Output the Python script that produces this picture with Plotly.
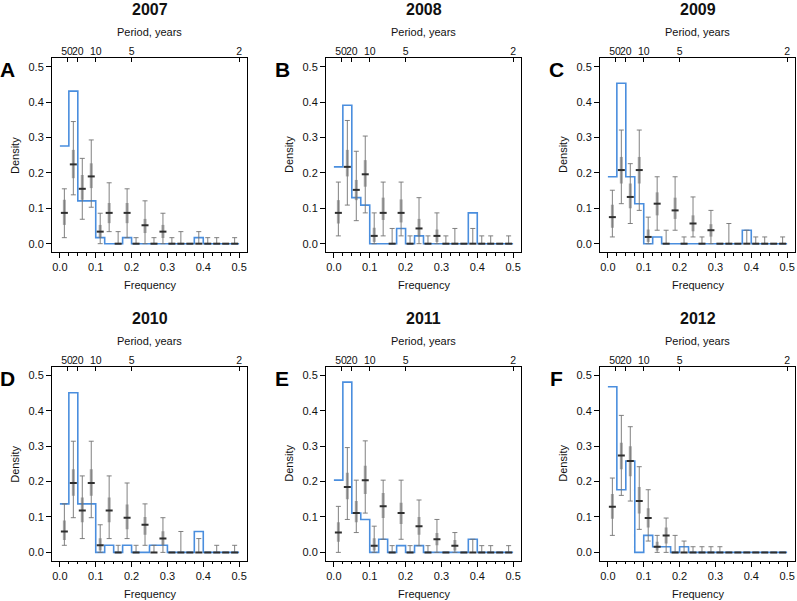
import numpy as np
import plotly.graph_objects as go

years = ["2007", "2008", "2009", "2010", "2011", "2012"]
letters = ["A", "B", "C", "D", "E", "F"]

bin_edges = [round(0.025 * i, 3) for i in range(21)]
bin_centers = [round(0.0125 + 0.025 * i, 4) for i in range(20)]

period_ticks = [0.02, 0.05, 0.1, 0.2, 0.5]
period_labels = ["50", "20", "10", "5", "2"]
freq_ticks = [0.0, 0.1, 0.2, 0.3, 0.4, 0.5]
freq_labels = ["0.0", "0.1", "0.2", "0.3", "0.4", "0.5"]
dens_ticks = [0.0, 0.1, 0.2, 0.3, 0.4, 0.5]
dens_labels = ["0.0", "0.1", "0.2", "0.3", "0.4", "0.5"]

# observed spectrum (blue step)
hist_A = [0.276, 0.431, 0.121, 0.121, 0.017, 0, 0, 0.017, 0, 0, 0, 0, 0, 0, 0, 0.017, 0, 0, 0, 0]
hist_B = [0.217, 0.391, 0.130, 0.109, 0, 0, 0, 0.043, 0, 0.022, 0, 0, 0, 0, 0, 0.087, 0, 0, 0, 0]
hist_C = [0.189, 0.453, 0.189, 0.113, 0, 0.019, 0, 0, 0, 0, 0, 0, 0, 0, 0, 0.038, 0, 0, 0, 0]
hist_D = [0.137, 0.451, 0.137, 0.137, 0, 0.020, 0, 0.020, 0, 0, 0.020, 0.020, 0, 0, 0, 0.059, 0, 0, 0, 0]
hist_E = [0.204, 0.481, 0.111, 0.093, 0, 0.037, 0, 0.019, 0, 0.019, 0, 0, 0, 0, 0, 0.037, 0, 0, 0, 0]
hist_F = [0.468, 0.177, 0.258, 0, 0.048, 0.016, 0.016, 0, 0.016, 0, 0, 0, 0, 0, 0, 0, 0, 0, 0, 0]

# simulated: point estimate, 95% and 50% intervals
mean_A = [0.087, 0.224, 0.155, 0.190, 0.034, 0.087, 0, 0.087, 0, 0.052, 0, 0.034, 0, 0, 0, 0, 0, 0, 0, 0]
lo_A = [0.017, 0.138, 0.069, 0.103, 0, 0.034, 0, 0.017, 0, 0, 0, 0, 0, 0, 0, 0, 0, 0, 0, 0]
hi_A = [0.155, 0.345, 0.241, 0.293, 0.086, 0.172, 0.034, 0.155, 0.017, 0.121, 0.017, 0.086, 0.017, 0.034, 0, 0.034, 0.017, 0.017, 0, 0.017]
lo50_A = [0.053, 0.185, 0.124, 0.157, 0.016, 0.058, 0, 0.058, 0, 0.030, 0, 0.016, 0, 0, 0, 0, 0, 0, 0, 0]
hi50_A = [0.124, 0.265, 0.194, 0.227, 0.053, 0.115, 0, 0.115, 0, 0.070, 0, 0.053, 0, 0, 0, 0, 0, 0, 0, 0]

mean_B = [0.087, 0.217, 0.152, 0.196, 0.022, 0.087, 0, 0.087, 0, 0.043, 0, 0.022, 0, 0, 0, 0, 0, 0, 0, 0]
lo_B = [0.022, 0.109, 0.065, 0.087, 0, 0.022, 0, 0.022, 0, 0, 0, 0, 0, 0, 0, 0, 0, 0, 0, 0]
hi_B = [0.174, 0.348, 0.261, 0.304, 0.087, 0.174, 0.043, 0.174, 0.022, 0.130, 0.022, 0.087, 0.022, 0.043, 0, 0.043, 0.022, 0.022, 0, 0.022]
lo50_B = [0.057, 0.190, 0.123, 0.161, 0.005, 0.067, 0, 0.060, 0, 0.020, 0, 0.005, 0, 0, 0, 0, 0, 0, 0, 0]
hi50_B = [0.123, 0.265, 0.180, 0.236, 0.045, 0.130, 0, 0.125, 0, 0.070, 0, 0.040, 0, 0, 0, 0, 0, 0, 0, 0]

mean_C = [0.075, 0.208, 0.132, 0.208, 0.019, 0.113, 0, 0.094, 0, 0.057, 0, 0.038, 0, 0, 0, 0, 0, 0, 0, 0]
lo_C = [0.019, 0.113, 0.057, 0.094, 0, 0.038, 0, 0.038, 0, 0.019, 0, 0, 0, 0, 0, 0, 0, 0, 0, 0]
hi_C = [0.151, 0.321, 0.226, 0.321, 0.075, 0.189, 0.038, 0.189, 0.019, 0.132, 0.019, 0.094, 0, 0.057, 0, 0.038, 0.019, 0.019, 0, 0.019]
lo50_C = [0.045, 0.170, 0.100, 0.170, 0.005, 0.080, 0, 0.070, 0, 0.035, 0, 0.020, 0, 0, 0, 0, 0, 0, 0, 0]
hi50_C = [0.110, 0.245, 0.170, 0.245, 0.040, 0.145, 0, 0.130, 0, 0.080, 0, 0.055, 0, 0, 0, 0, 0, 0, 0, 0]

mean_D = [0.059, 0.196, 0.118, 0.196, 0.020, 0.118, 0, 0.098, 0, 0.078, 0, 0.039, 0, 0, 0, 0, 0, 0, 0, 0]
lo_D = [0.020, 0.098, 0.039, 0.098, 0, 0.039, 0, 0.039, 0, 0.020, 0, 0, 0, 0, 0, 0, 0, 0, 0, 0]
hi_D = [0.137, 0.314, 0.216, 0.314, 0.078, 0.216, 0.020, 0.196, 0.020, 0.137, 0.020, 0.098, 0, 0.059, 0, 0.039, 0, 0.020, 0, 0.020]
lo50_D = [0.035, 0.160, 0.085, 0.160, 0.005, 0.085, 0, 0.065, 0, 0.050, 0, 0.020, 0, 0, 0, 0, 0, 0, 0, 0]
hi50_D = [0.090, 0.235, 0.155, 0.235, 0.040, 0.155, 0, 0.135, 0, 0.100, 0, 0.060, 0, 0, 0, 0, 0, 0, 0, 0]

mean_E = [0.056, 0.185, 0.111, 0.204, 0.019, 0.130, 0, 0.111, 0, 0.074, 0, 0.037, 0, 0.019, 0, 0, 0, 0, 0, 0]
lo_E = [0, 0.093, 0.056, 0.111, 0, 0.037, 0, 0.037, 0, 0.019, 0, 0, 0, 0, 0, 0, 0, 0, 0, 0]
hi_E = [0.130, 0.296, 0.204, 0.315, 0.074, 0.204, 0.019, 0.204, 0.019, 0.148, 0.019, 0.093, 0, 0.056, 0, 0.037, 0.019, 0.019, 0, 0.019]
lo50_E = [0.030, 0.150, 0.085, 0.165, 0.005, 0.097, 0, 0.080, 0, 0.050, 0, 0.020, 0, 0.005, 0, 0, 0, 0, 0, 0]
hi50_E = [0.085, 0.225, 0.145, 0.245, 0.040, 0.168, 0, 0.140, 0, 0.100, 0, 0.055, 0, 0.035, 0, 0, 0, 0, 0, 0]

mean_F = [0.129, 0.274, 0.258, 0.145, 0.097, 0.016, 0.048, 0, 0, 0, 0, 0, 0, 0, 0, 0, 0, 0, 0, 0]
lo_F = [0.048, 0.161, 0.145, 0.065, 0.032, 0, 0, 0, 0, 0, 0, 0, 0, 0, 0, 0, 0, 0, 0, 0]
hi_F = [0.210, 0.387, 0.355, 0.242, 0.177, 0.048, 0.097, 0.048, 0.032, 0.016, 0.016, 0.016, 0.016, 0, 0, 0, 0, 0, 0, 0]
lo50_F = [0.095, 0.235, 0.215, 0.110, 0.070, 0.005, 0.025, 0, 0, 0, 0, 0, 0, 0, 0, 0, 0, 0, 0, 0]
hi50_F = [0.165, 0.310, 0.300, 0.185, 0.125, 0.030, 0.070, 0, 0, 0, 0, 0, 0, 0, 0, 0, 0, 0, 0, 0]

hists = [hist_A, hist_B, hist_C, hist_D, hist_E, hist_F]
means = [mean_A, mean_B, mean_C, mean_D, mean_E, mean_F]
los = [lo_A, lo_B, lo_C, lo_D, lo_E, lo_F]
his = [hi_A, hi_B, hi_C, hi_D, hi_E, hi_F]
lo50s = [lo50_A, lo50_B, lo50_C, lo50_D, lo50_E, lo50_F]
hi50s = [hi50_A, hi50_B, hi50_C, hi50_D, hi50_E, hi50_F]

W, H = 797, 601
FONT = "Liberation Sans, Arial, Helvetica, sans-serif"
BLUE = "#4a8ede"
TXT = "#111111"

col_left = [52, 326, 600]
box_w = 195
row_top = [58, 366.7]
box_h = 194

fig = go.Figure()
layout = dict(
    width=W, height=H, margin=dict(l=0, r=0, t=0, b=0),
    paper_bgcolor="white", plot_bgcolor="white", showlegend=False,
    font=dict(family=FONT, size=11, color=TXT),
)
annotations = []

def py(pix):
    return 1 - pix / H

for k in range(6):
    r, c = divmod(k, 3)
    xa, ya, xt = f"x{k+1}", f"y{k+1}", f"x{k+7}"
    x0 = col_left[c]; x1 = x0 + box_w
    y0 = row_top[r]; y1 = y0 + box_h
    xdom = [x0 / W, x1 / W]
    ydom = [py(y1), py(y0)]

    hist = hists[k]
    m = np.array(means[k]); lo = np.array(los[k]); hi = np.array(his[k])
    l5 = np.array(lo50s[k]); h5 = np.array(hi50s[k])

    fig.add_trace(go.Scatter(
        x=bin_edges, y=list(hist) + [hist[-1]], mode="lines",
        line=dict(color=BLUE, width=1.6, shape="hv"),
        xaxis=xa, yaxis=ya, hoverinfo="skip"))
    fig.add_trace(go.Scatter(
        x=bin_centers, y=m, mode="markers",
        marker=dict(size=1, color="rgba(0,0,0,0)"),
        error_y=dict(type="data", symmetric=False, array=hi - m, arrayminus=m - lo,
                     color="rgba(115,115,115,0.9)", thickness=1, width=2.5),
        xaxis=xa, yaxis=ya, hoverinfo="skip"))
    fig.add_trace(go.Scatter(
        x=bin_centers, y=m, mode="markers",
        marker=dict(symbol="line-ew", size=5, color="#2e2e2e",
                    line=dict(width=2, color="#2e2e2e")),
        error_y=dict(type="data", symmetric=False, array=h5 - m, arrayminus=m - l5,
                     color="rgba(115,115,115,0.6)", thickness=3, width=0),
        xaxis=xa, yaxis=ya, hoverinfo="skip"))
    fig.add_trace(go.Scatter(
        x=[0.25], y=[0.25], mode="markers", marker=dict(opacity=0),
        xaxis=xt, yaxis=ya, hoverinfo="skip"))

    axis_common = dict(showgrid=False, zeroline=False, linecolor="black", linewidth=1,
                       tickcolor="black", tickwidth=1, tickangle=0)
    tf = dict(family=FONT, size=11, color=TXT)
    layout[f"xaxis{k+1}"] = dict(
        domain=xdom, anchor=ya, range=[-0.022, 0.522],
        tickmode="array", tickvals=freq_ticks, ticktext=freq_labels,
        ticks="outside", ticklen=5, showline=True, mirror=True, tickfont=tf,
        minor=dict(dtick=0.025, tick0=0, ticks="outside", ticklen=2.5,
                   tickcolor="black", tickwidth=1, showgrid=False),
        **axis_common)
    layout[f"yaxis{k+1}"] = dict(
        domain=ydom, anchor=xa, range=[-0.0235, 0.5245],
        tickmode="array", tickvals=dens_ticks, ticktext=dens_labels,
        ticks="outside", ticklen=5, showline=True, mirror=True, tickfont=tf,
        **axis_common)
    layout[f"xaxis{k+7}"] = dict(
        overlaying=xa, anchor=ya, side="top", range=[-0.022, 0.522],
        tickmode="array", tickvals=period_ticks, ticktext=period_labels,
        ticks="inside", ticklen=4, showline=False,
        tickfont=dict(family=FONT, size=10.5, color=TXT),
        **axis_common)

    cx = (x0 + x1) / 2
    cy = (y0 + y1) / 2
    off = 0 if r == 0 else 308.7
    annotations += [
        dict(text=f"<b>{years[k]}</b>", x=cx / W, y=py(9.5 + off), xref="paper", yref="paper",
             showarrow=False, xanchor="center", yanchor="middle",
             font=dict(family=FONT, size=16, color=TXT)),
        dict(text="Period, years", x=cx / W, y=py(32.5 + off), xref="paper", yref="paper",
             showarrow=False, xanchor="center", yanchor="middle",
             font=dict(family=FONT, size=11, color=TXT)),
        dict(text="Frequency", x=cx / W, y=py(285 + off), xref="paper", yref="paper",
             showarrow=False, xanchor="center", yanchor="middle",
             font=dict(family=FONT, size=11, color=TXT)),
        dict(text="Density", x=(x0 - 37) / W, y=py(cy), xref="paper", yref="paper",
             showarrow=False, xanchor="center", yanchor="middle", textangle=-90,
             font=dict(family=FONT, size=11, color=TXT)),
        dict(text=f"<b>{letters[k]}</b>", x=(x0 - 44) / W, y=py(69.5 + off), xref="paper", yref="paper",
             showarrow=False, xanchor="center", yanchor="middle",
             font=dict(family=FONT, size=21, color="black")),
    ]

layout["annotations"] = annotations
fig.update_layout(**layout)
fig.write_html("out.html", config={"displayModeBar": False},
               post_script="document.body.style.margin='0px';document.body.style.overflow='hidden';")
